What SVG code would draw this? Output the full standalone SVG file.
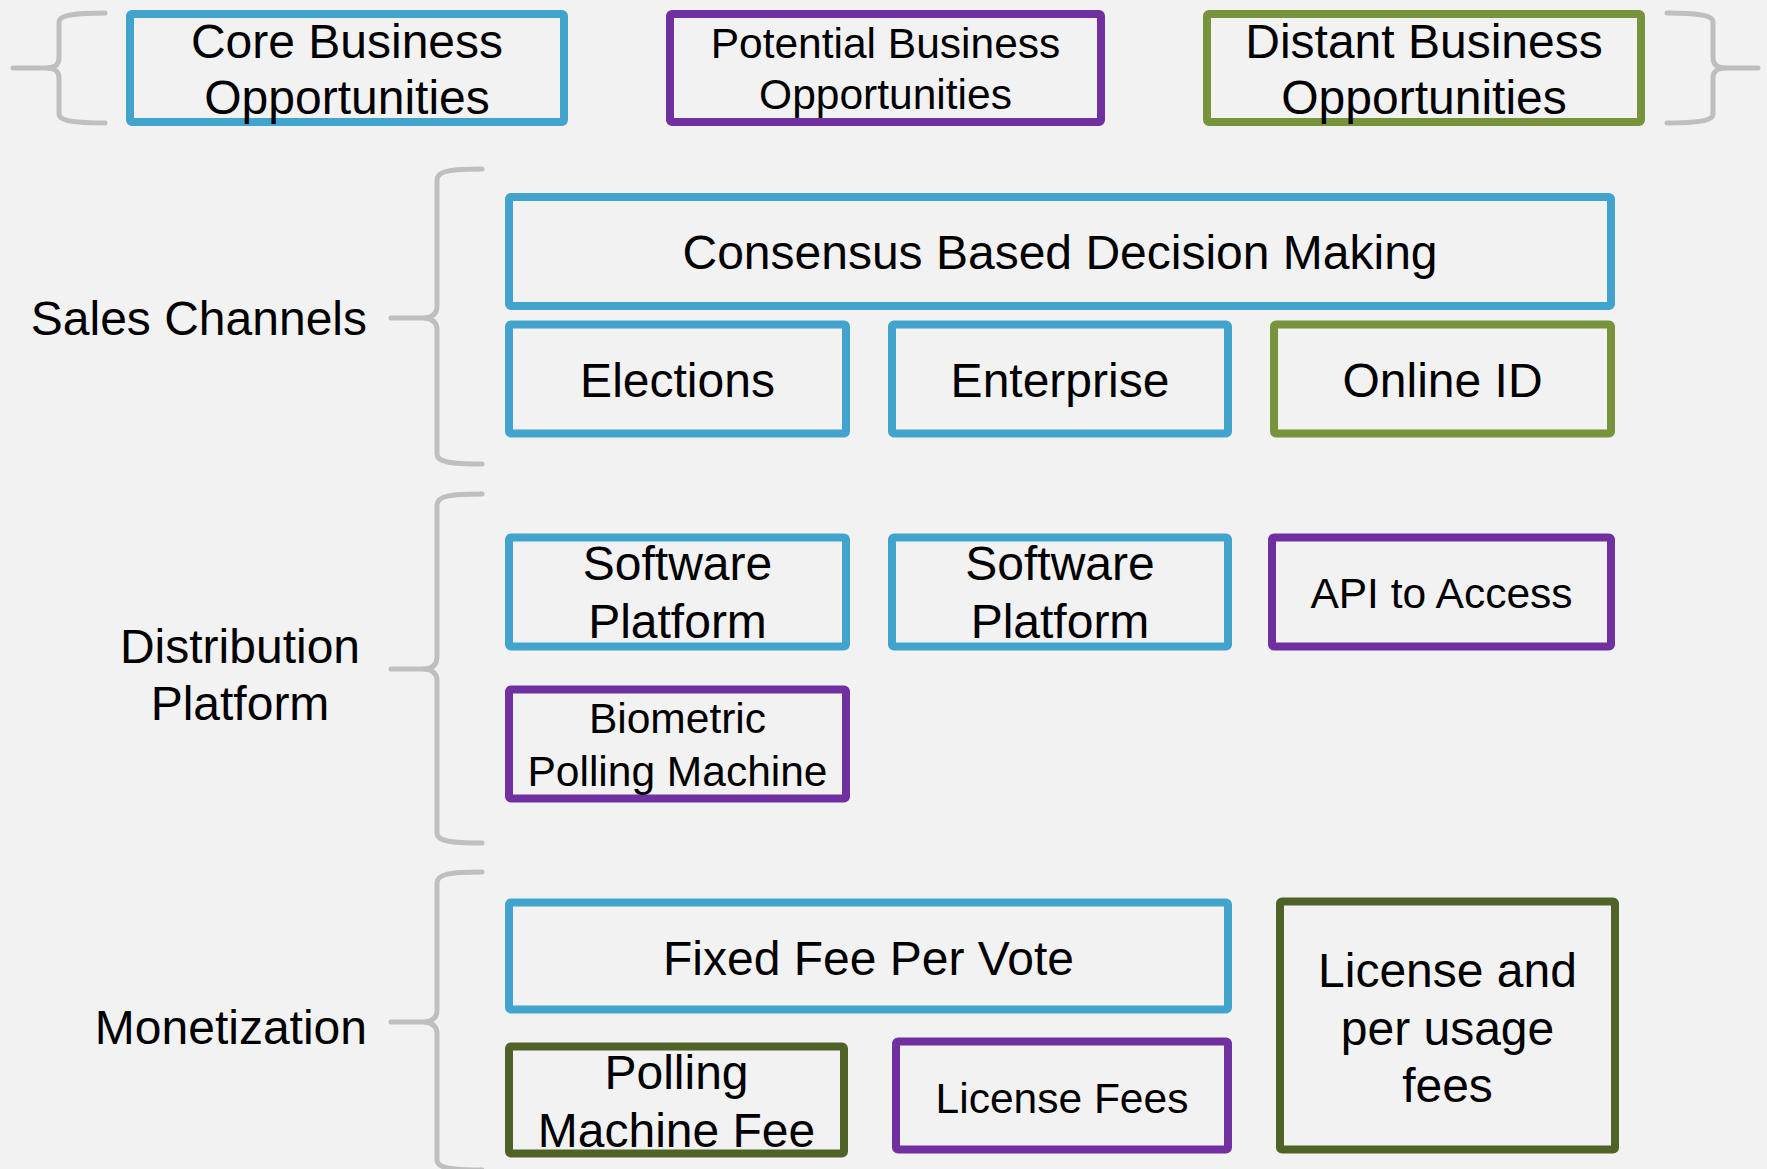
<svg xmlns="http://www.w3.org/2000/svg" width="1767" height="1169" viewBox="0 0 1767 1169">
<style>
.bg{fill:#F2F2F2}
.box{fill:none;stroke-width:8;stroke-linejoin:round}
.blue{stroke:#42A3CD}
.purple{stroke:#7030A0}
.lgreen{stroke:#77933C}
.dgreen{stroke:#4F6228}
.brace{fill:none;stroke:#BFBFBF;stroke-width:5;stroke-linecap:round;stroke-linejoin:round}
text{font-family:"Liberation Sans",Arial,sans-serif;fill:#000;text-anchor:middle}
.l{font-size:48px}
.s{font-size:42.5px}
.e{text-anchor:end}
</style>
<rect class="bg" x="0" y="0" width="1767" height="1169"/>
<g id="connectors">
<path class="brace" d="M105,13 C75,13 59,15 59,22 L59,58 C59,65 55,68 45,68 L13,68 M45,68 C55,68 59,71 59,78 L59,114 C59,121 75,123 105,123"/>
<path class="brace" d="M1667,13 C1697,13 1713,15 1713,22 L1713,58 C1713,65 1717,68 1727,68 L1758,68 M1727,68 C1717,68 1713,71 1713,78 L1713,114 C1713,121 1697,123 1667,123"/>
<path class="brace" d="M482,169 C450,169 437,171 437,180 L437,306 C437,314 432,318 422,318 L391,318 M422,318 C432,318 437,322 437,330 L437,454 C437,462 450,464 482,464"/>
<path class="brace" d="M482,494 C450,494 437,496 437,505 L437,657 C437,665 432,669 422,669 L391,669 M422,669 C432,669 437,673 437,681 L437,833 C437,841 450,843 482,843"/>
<path class="brace" d="M482,872 C450,872 437,874 437,883 L437,1010 C437,1018 432,1022 422,1022 L391,1022 M422,1022 C432,1022 437,1026 437,1034 L437,1160 C437,1168 450,1170 482,1170"/>
</g>
<g id="core">
<rect class="box blue" x="130" y="14" width="434" height="108" rx="2"/>
<text class="l" x="347" y="58">Core Business</text>
<text class="l" x="347" y="114">Opportunities</text>
</g>
<g id="potential">
<rect class="box purple" x="670" y="14" width="431" height="108" rx="2"/>
<text class="s" x="885.5" y="58">Potential Business</text>
<text class="s" x="885.5" y="109">Opportunities</text>
</g>
<g id="distant">
<rect class="box lgreen" x="1207" y="14" width="434" height="108" rx="2"/>
<text class="l" x="1424" y="58">Distant Business</text>
<text class="l" x="1424" y="114">Opportunities</text>
</g>
<g id="sales-label"><text class="l e" x="367" y="335">Sales Channels</text></g>
<g id="distribution-label">
<text class="l" x="240" y="663">Distribution</text>
<text class="l" x="240" y="720">Platform</text>
</g>
<g id="monetization-label"><text class="l e" x="367" y="1044">Monetization</text></g>
<g id="consensus">
<rect class="box blue" x="509" y="197" width="1102" height="109" rx="2"/>
<text class="l" x="1060" y="269">Consensus Based Decision Making</text>
</g>
<g id="elections">
<rect class="box blue" x="509" y="324.5" width="337" height="109" rx="2"/>
<text class="l" x="677.5" y="397">Elections</text>
</g>
<g id="enterprise">
<rect class="box blue" x="892" y="324.5" width="336" height="109" rx="2"/>
<text class="l" x="1060" y="397">Enterprise</text>
</g>
<g id="online-id">
<rect class="box lgreen" x="1274" y="324.5" width="337" height="109" rx="2"/>
<text class="l" x="1442.5" y="397">Online ID</text>
</g>
<g id="software-platform-1">
<rect class="box blue" x="509" y="537.5" width="337" height="109" rx="2"/>
<text class="l" x="677.5" y="580">Software</text>
<text class="l" x="677.5" y="638">Platform</text>
</g>
<g id="software-platform-2">
<rect class="box blue" x="892" y="537.5" width="336" height="109" rx="2"/>
<text class="l" x="1060" y="580">Software</text>
<text class="l" x="1060" y="638">Platform</text>
</g>
<g id="api">
<rect class="box purple" x="1272" y="537.5" width="339" height="109" rx="2"/>
<text class="s" x="1441.5" y="608">API to Access</text>
</g>
<g id="biometric">
<rect class="box purple" x="509" y="689.5" width="337" height="109" rx="2"/>
<text class="s" x="677.5" y="733">Biometric</text>
<text class="s" x="677.5" y="786">Polling Machine</text>
</g>
<g id="fixed-fee">
<rect class="box blue" x="509" y="902.5" width="719" height="107" rx="2"/>
<text class="l" x="868.5" y="975">Fixed Fee Per Vote</text>
</g>
<g id="polling-fee">
<rect class="box dgreen" x="509" y="1046.5" width="335" height="107" rx="2"/>
<text class="l" x="676.5" y="1089">Polling</text>
<text class="l" x="676.5" y="1147">Machine Fee</text>
</g>
<g id="license-fees">
<rect class="box purple" x="896" y="1041.5" width="332" height="108" rx="2"/>
<text class="s" x="1062" y="1113">License Fees</text>
</g>
<g id="license-usage">
<rect class="box dgreen" x="1280" y="901.5" width="335" height="248" rx="2"/>
<text class="l" x="1447.5" y="987">License and</text>
<text class="l" x="1447.5" y="1045">per usage</text>
<text class="l" x="1447.5" y="1102">fees</text>
</g>
</svg>
